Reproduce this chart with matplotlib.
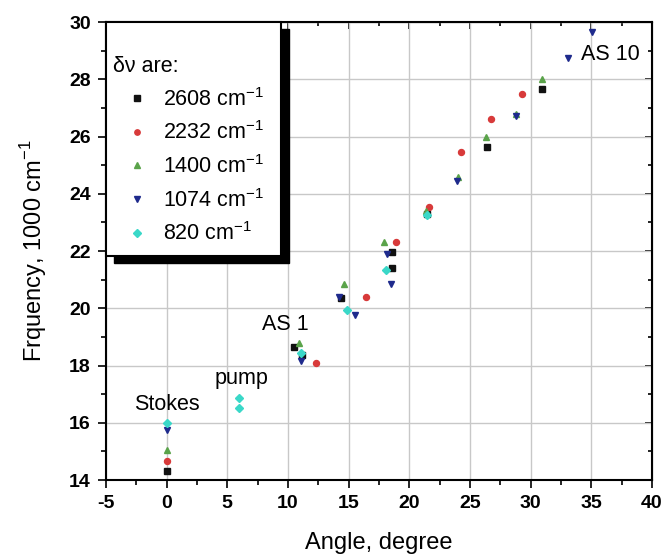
'''
frequency vs angle of the stokes / anti-stokes
components for several Raman shifts
'''
import matplotlib
matplotlib.use('Agg')
import matplotlib.pyplot as plt
from matplotlib.patches import Rectangle
from matplotlib.ticker import MultipleLocator

plt.rcParams['font.family'] = ['Liberation Sans', 'DejaVu Sans']
plt.rcParams['mathtext.fontset'] = 'custom'
plt.rcParams['mathtext.rm'] = 'Liberation Sans'
plt.rcParams['axes.unicode_minus'] = False

#series data, angle in degrees, frequency in 1000 cm-1
labels = ['2608 cm$^{-1}$', '2232 cm$^{-1}$', '1400 cm$^{-1}$', '1074 cm$^{-1}$', '820 cm$^{-1}$']

x_2608 = [0, 10.5, 11.2, 14.4, 18.6, 18.6, 21.5, 26.4, 30.9]
y_2608 = [14.3, 18.65, 18.35, 20.35, 21.95, 21.4, 23.3, 25.65, 27.65]

x_2232 = [0, 12.3, 16.4, 18.9, 21.6, 24.3, 26.7, 29.3]
y_2232 = [14.65, 18.1, 20.4, 22.3, 23.55, 25.45, 26.62, 27.5]

x_1400 = [0, 10.9, 14.6, 17.9, 21.4, 24.0, 26.3, 28.8, 30.9]
y_1400 = [15.05, 18.8, 20.85, 22.3, 23.4, 24.6, 26.0, 26.8, 28.0]

x_1074 = [0, 11.1, 14.2, 15.5, 18.2, 18.5, 23.9, 28.8, 33.1, 35.1]
y_1074 = [15.75, 18.15, 20.4, 19.75, 21.9, 20.85, 24.45, 26.7, 28.75, 29.65]

x_820 = [0, 5.95, 5.95, 11.1, 14.9, 18.1, 21.5]
y_820 = [16.0, 16.85, 16.5, 18.45, 19.95, 21.35, 23.25]

#annotations: text, x, y
notes = [('Stokes', 0.0, 16.65), ('pump', 6.2, 17.55), ('AS 1', 9.8, 19.45), ('AS 10', 36.6, 28.85)]

fig = plt.figure(figsize=(6.62, 5.59), dpi=100)
ax = fig.add_axes([0.160, 0.1413, 0.8248, 0.8193])

series = [(x_2608, y_2608, 's', '#111111'),
          (x_2232, y_2232, 'o', '#d83a3a'),
          (x_1400, y_1400, '^', '#5aa34a'),
          (x_1074, y_1074, 'v', '#1e2a8c'),
          (x_820, y_820, 'D', '#3ad8c8')]
for (xs, ys, m, c), lab in zip(series, labels):
    ax.plot(xs, ys, linestyle='none', marker=m, color=c, markersize=4.3, label=lab, zorder=3)

for txt, tx, ty in notes:
    ax.text(tx, ty, txt, fontsize=15.5, ha='center', va='center', zorder=4)

ax.set_xlim(-5, 40)
ax.set_ylim(14, 30)
ax.xaxis.set_major_locator(MultipleLocator(5))
ax.xaxis.set_minor_locator(MultipleLocator(2.5))
ax.yaxis.set_major_locator(MultipleLocator(2))
ax.yaxis.set_minor_locator(MultipleLocator(1))
ax.grid(True, which='major', color='#c8c8c8', linewidth=1)
ax.set_axisbelow(True)
ax.tick_params(which='both', direction='out', top=False, right=False, width=1.2)
ax.tick_params(which='major', length=6, labelsize=14)
ax.tick_params(axis='x', which='major', pad=5)
ax.tick_params(axis='y', which='major', pad=5)
ax.tick_params(which='minor', length=3.5)
for lbl in ax.get_xticklabels() + ax.get_yticklabels():
    lbl.set_fontweight('bold')
for s in ax.spines.values():
    s.set_linewidth(1.5)

#ticks on the top and right pointing inward
ax_t = ax.secondary_xaxis('top')
ax_t.xaxis.set_major_locator(MultipleLocator(5))
ax_t.xaxis.set_minor_locator(MultipleLocator(2.5))
ax_t.tick_params(which='both', direction='in', labeltop=False, width=1.2)
ax_t.tick_params(which='major', length=5)
ax_t.tick_params(which='minor', length=3)
ax_r = ax.secondary_yaxis('right')
ax_r.yaxis.set_major_locator(MultipleLocator(2))
ax_r.yaxis.set_minor_locator(MultipleLocator(1))
ax_r.tick_params(which='both', direction='in', labelright=False, width=1.2)
ax_r.tick_params(which='major', length=5)
ax_r.tick_params(which='minor', length=3)

ax.set_xlabel('Angle, degree', fontsize=17, labelpad=14)
ax.set_ylabel('Frquency, 1000 cm$^{-1}$', fontsize=17, labelpad=14)

#legend box with a heavy black shadow
ax.add_patch(Rectangle((0.0147, 0.474), 0.3205, 0.511, transform=ax.transAxes,
                       facecolor='black', edgecolor='black', zorder=5, clip_on=False))
ax.add_patch(Rectangle((0.0, 0.489), 0.3205, 0.511, transform=ax.transAxes,
                       facecolor='white', edgecolor='black', linewidth=1.5, zorder=6, clip_on=False))
leg = ax.legend(loc='upper left', bbox_to_anchor=(0.0128, 0.926), frameon=False,
                title='δν are:', alignment='left', fontsize=15.5, title_fontsize=15.5,
                borderpad=0, borderaxespad=0, handlelength=2.2, handletextpad=0.15,
                labelspacing=0.5, markerscale=0.9)
leg.set_zorder(7)

plt.savefig('out.png', dpi=100)
